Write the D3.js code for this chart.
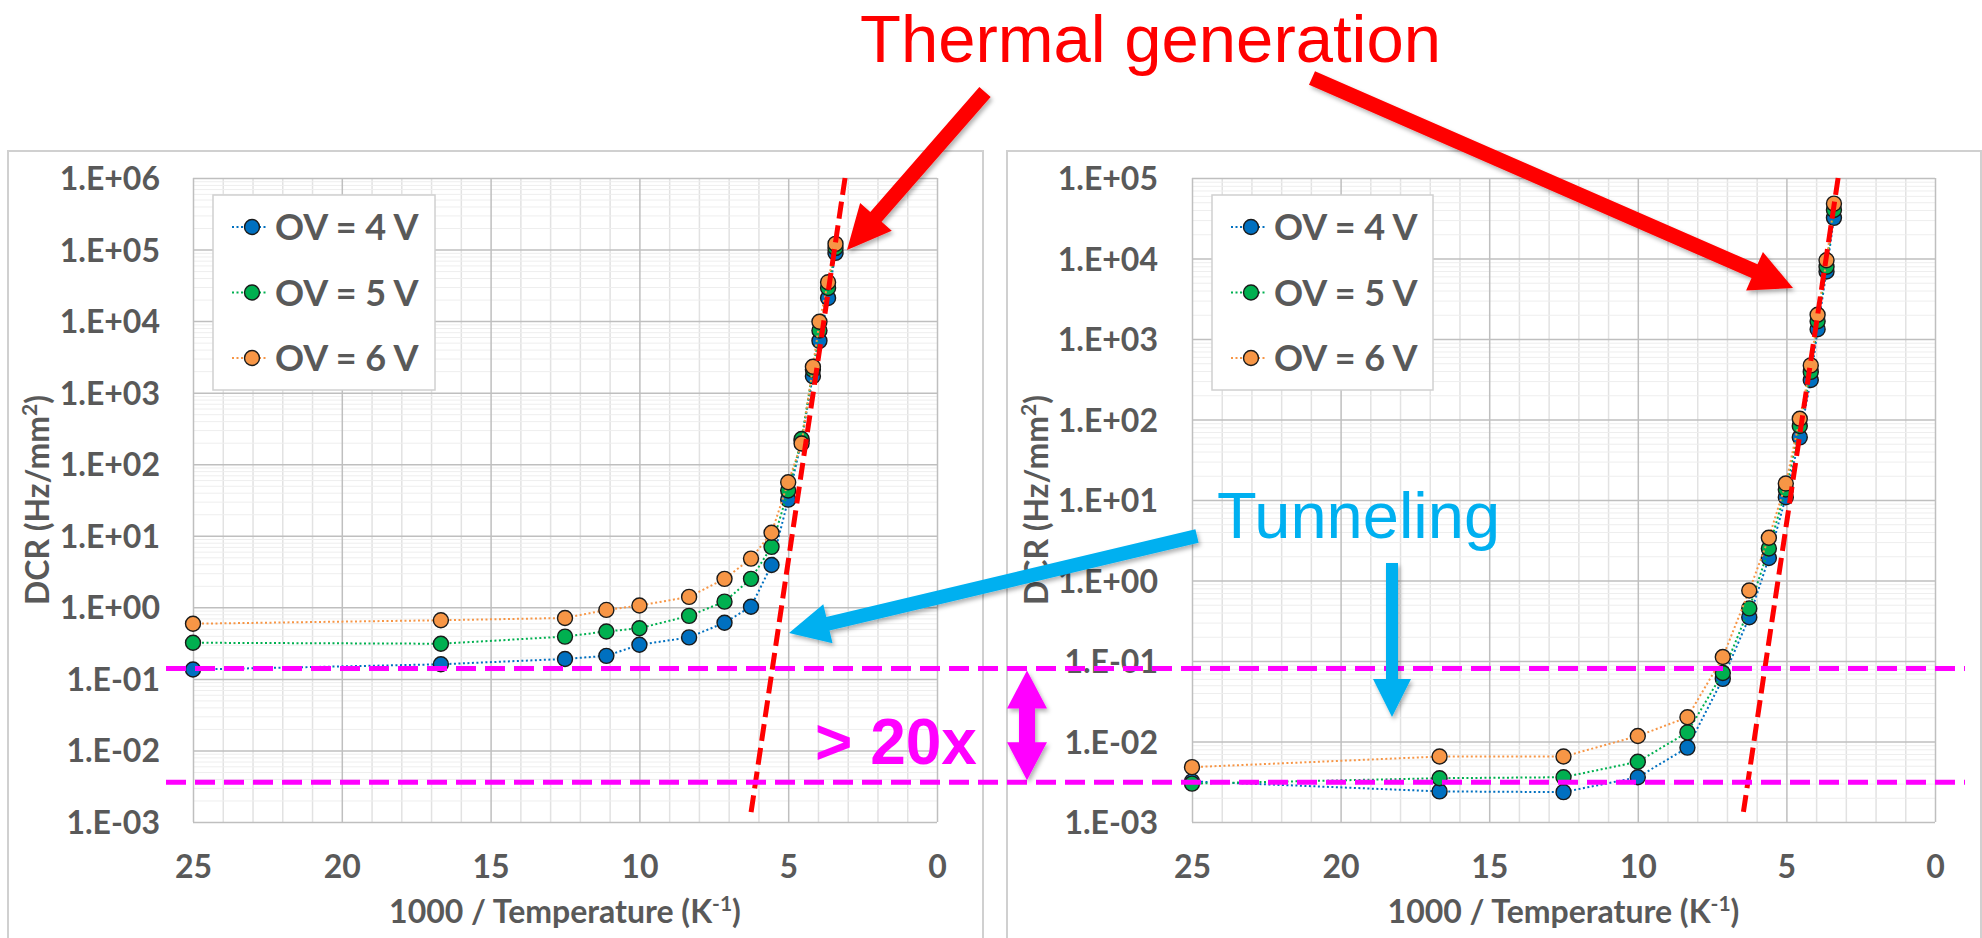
<!DOCTYPE html>
<html>
<head>
<meta charset="utf-8">
<script src="https://cdn.jsdelivr.net/npm/d3@7"></script>
<style>
  html, body { margin: 0; padding: 0; background: #ffffff; }
  svg { display: block; }
</style>
</head>
<body>
<svg id="fig" width="1982" height="938"></svg>
<script>
// ---------------- data ----------------
const seriesNames  = ["OV = 4 V", "OV = 5 V", "OV = 6 V"];
const seriesColors = ["#0070C0", "#00B050", "#F79646"];
const xTickValues  = [25, 20, 15, 10, 5, 0];

// Left device: 1000/T (K^-1) and DCR (Hz/mm²) per over-voltage
const leftInvT = [25, 16.67, 12.5, 11.11, 10, 8.33, 7.14, 6.25, 5.56, 5.0, 4.55, 4.17, 3.95, 3.66, 3.41];
const leftOV4  = [0.135, 0.16, 0.19, 0.21, 0.30, 0.38, 0.61, 1.02, 3.9, 32, 215, 1700, 5300, 21000, 90000];
const leftOV5  = [0.32, 0.31, 0.39, 0.46, 0.51, 0.76, 1.2, 2.5, 7.0, 43, 225, 2100, 7400, 29000, 105000];
const leftOV6  = [0.59, 0.66, 0.71, 0.92, 1.06, 1.4, 2.5, 4.8, 11, 56, 195, 2300, 9800, 35000, 120000];
const leftYExp = [-3, -2, -1, 0, 1, 2, 3, 4, 5, 6];
const leftFitInvT = [3.09, 6.25];
const leftFitDCR  = [1e6, 1.35e-3];

// Right device
const rightInvT = [25, 16.67, 12.5, 10, 8.33, 7.14, 6.25, 5.59, 5.02, 4.55, 4.18, 3.95, 3.65, 3.40];
const rightOV4  = [3.2e-3, 2.4e-3, 2.35e-3, 3.6e-3, 8.4e-3, 0.060, 0.35, 1.9, 10.8, 60, 310, 1320, 6900, 32000];
const rightOV5  = [3.0e-3, 3.5e-3, 3.6e-3, 5.6e-3, 1.3e-2, 0.071, 0.45, 2.5, 13.5, 83, 390, 1660, 7900, 40000];
const rightOV6  = [4.8e-3, 6.5e-3, 6.5e-3, 1.17e-2, 2.0e-2, 0.112, 0.75, 3.4, 16, 102, 470, 2000, 9500, 48000];
const rightYExp = [-3, -2, -1, 0, 1, 2, 3, 4, 5];
const rightFitInvT = [3.26, 6.46];
const rightFitDCR  = [1e5, 1.23e-3];

// DCR levels of the two horizontal reference lines (left-chart units)
const refLevels = [0.14, 3.6e-3];

// ---------------- drawing ----------------
const svg = d3.select("#fig");
const AXIS_FONT = "Lato, 'Open Sans', sans-serif";
const AXIS_GREY = "#595959";

const defs = svg.append("defs");
const shadow = defs.append("filter").attr("id", "shadow")
  .attr("x", "-20%").attr("y", "-20%").attr("width", "140%").attr("height", "140%");
shadow.append("feDropShadow").attr("dx", 2).attr("dy", 3)
  .attr("stdDeviation", 2).attr("flood-color", "#000").attr("flood-opacity", 0.3);

const fmtE = v => {
  const e = Math.round(Math.log10(v));
  return "1.E" + (e < 0 ? "-" : "+") + String(Math.abs(e)).padStart(2, "0");
};

function drawChart(cfg, invT, seriesVals, yExp, fitX, fitY) {
  const g = svg.append("g");
  const { x0, x1, y0, y1 } = cfg.plot;

  // chart frame
  g.append("rect")
    .attr("x", cfg.frame[0]).attr("y", cfg.frame[1])
    .attr("width", cfg.frame[2]).attr("height", cfg.frame[3])
    .attr("fill", "#fff").attr("stroke", "#D0D0D0").attr("stroke-width", 2);

  const x = d3.scaleLinear().domain([25, 0]).range([x0, x1]);
  const y = d3.scaleLog()
    .domain([Math.pow(10, yExp[0]), Math.pow(10, yExp[yExp.length - 1])])
    .range([y1, y0]);

  // minor gridlines
  const minorX = d3.range(1, 25).filter(v => v % 5 !== 0);
  const minorY = [];
  yExp.slice(0, -1).forEach(e => { for (let k = 2; k <= 9; k++) minorY.push(k * Math.pow(10, e)); });

  const gxMinor = g.append("g").attr("transform", `translate(0,${y1})`)
    .call(d3.axisBottom(x).tickValues(minorX).tickFormat("").tickSize(-(y1 - y0)));
  gxMinor.select(".domain").remove();
  gxMinor.selectAll("line").attr("stroke", "#E2E2E2").attr("stroke-width", 1.5);

  const gyMinor = g.append("g").attr("transform", `translate(${x0},0)`)
    .call(d3.axisLeft(y).tickValues(minorY).tickFormat("").tickSize(-(x1 - x0)));
  gyMinor.select(".domain").remove();
  gyMinor.selectAll("line").attr("stroke", "#EEEEEE").attr("stroke-width", 1);

  // major gridlines + tick labels
  const gx = g.append("g").attr("transform", `translate(0,${y1})`)
    .call(d3.axisBottom(x).tickValues(xTickValues).tickFormat(d3.format("d")).tickSize(-(y1 - y0)));
  gx.select(".domain").remove();
  gx.selectAll("line").attr("stroke", "#BFBFBF").attr("stroke-width", 1.5);
  gx.attr("font-family", AXIS_FONT).attr("font-size", 32).attr("font-weight", 700);
  gx.selectAll("text").attr("fill", AXIS_GREY).attr("y", 56).attr("dy", 0);

  const gy = g.append("g").attr("transform", `translate(${x0},0)`)
    .call(d3.axisLeft(y).tickValues(yExp.map(e => Math.pow(10, e))).tickFormat(fmtE)
      .tickSize(-(x1 - x0)).tickPadding(cfg.labelPad));
  gy.select(".domain").remove();
  gy.selectAll("line").attr("stroke", "#BFBFBF").attr("stroke-width", 1.5);
  gy.attr("font-family", AXIS_FONT).attr("font-size", 32).attr("font-weight", 700);
  gy.selectAll("text").attr("fill", AXIS_GREY).attr("dy", "0.36em");

  // axis titles
  const xt = g.append("text")
    .attr("x", (x0 + x1) / 2).attr("y", 923)
    .attr("text-anchor", "middle")
    .attr("font-family", AXIS_FONT).attr("font-size", 32).attr("font-weight", 700)
    .attr("fill", AXIS_GREY);
  xt.append("tspan").text("1000 / Temperature (K");
  xt.append("tspan").attr("font-size", 21).attr("dy", -12).text("-1");
  xt.append("tspan").attr("dy", 12).text(")");

  const yt = g.append("text")
    .attr("transform", `translate(${cfg.titleX},${(y0 + y1) / 2}) rotate(-90)`)
    .attr("text-anchor", "middle")
    .attr("font-family", AXIS_FONT).attr("font-size", 32).attr("font-weight", 700)
    .attr("fill", AXIS_GREY);
  yt.append("tspan").text("DCR (Hz/mm");
  yt.append("tspan").attr("font-size", 21).attr("dy", -12).text("2");
  yt.append("tspan").attr("dy", 12).text(")");

  // series: dotted connectors, then circle markers
  const line = d3.line().x(d => x(d[0])).y(d => y(d[1]));
  seriesVals.forEach((vals, i) => {
    const pts = invT.map((t, j) => [t, vals[j]]);
    g.append("path").datum(pts)
      .attr("d", line).attr("fill", "none")
      .attr("stroke", seriesColors[i]).attr("stroke-width", 2)
      .attr("stroke-dasharray", "2,2.5");
    g.append("g").selectAll("circle").data(pts).join("circle")
      .attr("cx", d => x(d[0])).attr("cy", d => y(d[1])).attr("r", 7.5)
      .attr("fill", seriesColors[i]).attr("stroke", "#1a1a1a").attr("stroke-width", 1.4);
  });

  // legend
  const L = cfg.legend;
  const lg = g.append("g");
  lg.append("rect").attr("x", L.x).attr("y", L.y).attr("width", L.w).attr("height", L.h)
    .attr("fill", "#fff").attr("stroke", "#D0D0D0").attr("stroke-width", 1.5);
  seriesNames.forEach((name, i) => {
    const cy = L.y + 32 + i * 65.5;
    const mx = L.x + 39;
    lg.append("line").attr("x1", mx - 20).attr("x2", mx + 16).attr("y1", cy).attr("y2", cy)
      .attr("stroke", seriesColors[i]).attr("stroke-width", 2).attr("stroke-dasharray", "2,2.5");
    lg.append("circle").attr("cx", mx).attr("cy", cy).attr("r", 7.5)
      .attr("fill", seriesColors[i]).attr("stroke", "#1a1a1a").attr("stroke-width", 1.4);
    lg.append("text").attr("x", L.x + 62).attr("y", cy + 13)
      .attr("font-family", AXIS_FONT).attr("font-size", 36).attr("font-weight", 700)
      .attr("fill", AXIS_GREY).text(name);
  });

  return { x, y, fitLine: () => {
    g.append("path")
      .datum(fitX.map((t, j) => [t, fitY[j]]))
      .attr("d", line).attr("fill", "none")
      .attr("stroke", "#FF0000").attr("stroke-width", 5)
      .attr("stroke-dasharray", "17,7");
  } };
}

const left = drawChart({
  frame: [8, 151, 975, 820],
  plot: { x0: 193, x1: 937, y0: 178, y1: 822 },
  legend: { x: 213, y: 195, w: 222, h: 195 },
  labelPad: 33, titleX: 49
}, leftInvT, [leftOV4, leftOV5, leftOV6], leftYExp, leftFitInvT, leftFitDCR);

const right = drawChart({
  frame: [1007, 151, 974, 820],
  plot: { x0: 1192, x1: 1935, y0: 178, y1: 822 },
  legend: { x: 1212, y: 195, w: 221, h: 195 },
  labelPad: 34, titleX: 1048
}, rightInvT, [rightOV4, rightOV5, rightOV6], rightYExp, rightFitInvT, rightFitDCR);

left.fitLine();
right.fitLine();

// ---------------- annotations ----------------
const ann = svg.append("g");

// horizontal reference levels spanning both charts
refLevels.forEach(v => {
  ann.append("line")
    .attr("x1", 166).attr("x2", 1965)
    .attr("y1", left.y(v)).attr("y2", left.y(v))
    .attr("stroke", "#FF00FF").attr("stroke-width", 5).attr("stroke-dasharray", "20,9");
});

function arrowPoints(x1, y1, x2, y2, shaft, headLen, headW, twoHeads) {
  const L = Math.hypot(x2 - x1, y2 - y1);
  const ux = (x2 - x1) / L, uy = (y2 - y1) / L;
  const nx = -uy, ny = ux;
  const p = (bx, by, s) => [bx + nx * s, by + ny * s];
  const bEnd = [x2 - ux * headLen, y2 - uy * headLen];
  const bStart = twoHeads ? [x1 + ux * headLen, y1 + uy * headLen] : [x1, y1];
  const pts = [];
  if (twoHeads) {
    pts.push([x1, y1], p(bStart[0], bStart[1], headW / 2), p(bStart[0], bStart[1], shaft / 2));
  } else {
    pts.push(p(x1, y1, shaft / 2));
  }
  pts.push(p(bEnd[0], bEnd[1], shaft / 2), p(bEnd[0], bEnd[1], headW / 2), [x2, y2],
           p(bEnd[0], bEnd[1], -headW / 2), p(bEnd[0], bEnd[1], -shaft / 2));
  if (twoHeads) {
    pts.push(p(bStart[0], bStart[1], -shaft / 2), p(bStart[0], bStart[1], -headW / 2));
  } else {
    pts.push(p(x1, y1, -shaft / 2));
  }
  return pts.map(q => q.join(",")).join(" ");
}

function arrow(x1, y1, x2, y2, color, shaft, headLen, headW, twoHeads) {
  ann.append("polygon")
    .attr("points", arrowPoints(x1, y1, x2, y2, shaft, headLen, headW, twoHeads))
    .attr("fill", color).attr("filter", "url(#shadow)");
}

// thermal generation label + arrows
ann.append("text").attr("x", 860).attr("y", 62)
  .attr("font-family", "'Liberation Sans', Arial, sans-serif").attr("font-size", 67)
  .attr("fill", "#FF0000").text("Thermal generation");
arrow(985, 92, 847, 250, "#FF0000", 15, 44, 42);
arrow(1312, 78, 1793, 288, "#FF0000", 15, 42, 42);

// tunneling label + arrows
ann.append("text").attr("x", 1217).attr("y", 538)
  .attr("font-family", "'Liberation Sans', Arial, sans-serif").attr("font-size", 65)
  .attr("fill", "#00B0F0").text("Tunneling");
arrow(1197, 536, 789, 633, "#00B0F0", 14, 40, 40);
arrow(1392, 563, 1392, 717, "#00B0F0", 12, 38, 38);

// ratio between the two reference levels
arrow(1027, left.y(refLevels[0]) + 2, 1027, left.y(refLevels[1]) - 2, "#FF00FF", 16, 38, 40, true);
ann.append("text").attr("x", 815).attr("y", 764)
  .attr("font-family", "'Liberation Sans', Arial, sans-serif").attr("font-size", 64)
  .attr("font-weight", 700).attr("fill", "#FF00FF").text("> 20x");
</script>
</body>
</html>
